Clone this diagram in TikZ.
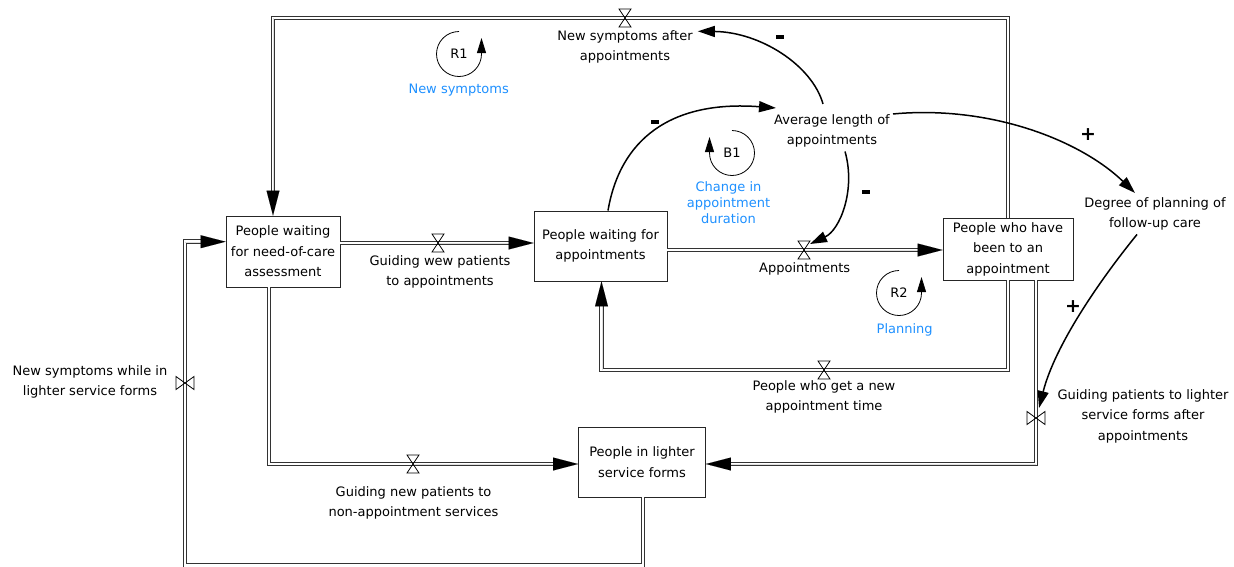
\documentclass[tikz,border=0pt]{standalone}
\usepackage{fontspec}
\setmainfont{DejaVu Sans}
\usetikzlibrary{arrows.meta}

\definecolor{loopblue}{RGB}{30,144,255}

\tikzset{
  % flow valve on a horizontal pipe (hourglass)
  pics/hvalve/.style={code={\draw[valvestroke] (-6,-9) -- (6,-9) -- (-6,9) -- (6,9) -- cycle;}},
  % flow valve on a vertical pipe (bow tie)
  pics/vvalve/.style={code={\draw[valvestroke] (-9,-6.5) -- (-9,6.5) -- (9,-6.5) -- (9,6.5) -- cycle;}},
  % loop markers: circular arrow turning counter-clockwise / clockwise
  pics/ccwloop/.style={code={\draw[loopstroke] (0,-22.5) arc[start angle=-90, end angle=-360, radius=22.5] -- ++(0,-16);}},
  pics/cwloop/.style={code={\draw[loopstroke] (0,-22.5) arc[start angle=-90, end angle=180, radius=22.5] -- ++(0,-16);}},
}

\begin{document}
\begin{tikzpicture}[x=1pt,y=-1pt,
  every node/.style={font=\fontsize{13}{20.5}\selectfont, align=center, inner sep=0pt},
  stock/.style={draw=black!85, line width=0.9pt, fill=white, inner sep=3pt},
  looplabel/.style={text=loopblue, font=\fontsize{13}{16}\selectfont},
  pipe/.style={draw=black!80, line width=0.85pt, double=white, double distance=2.8pt},
  pipehead/.style={line width=0.01pt, -{Triangle[length=25pt,width=13pt]}},
  link/.style={line width=1.5pt, -{Triangle[length=17pt,width=11pt]}},
  polarity/.style={font=\fontsize{19}{19}\selectfont\bfseries},
  minus/.style={fill=black, minimum width=8pt, minimum height=3.2pt},
  valvestroke/.style={line width=0.8pt},
  loopstroke/.style={line width=0.8pt, -{Triangle[length=15pt,width=9pt]}},
]
\useasboundingbox (0,0) rectangle (1234,566);
\clip (0,0) rectangle (1234,566);

% stocks
\node[stock, minimum width=114pt, minimum height=71pt] (wait) at (283,251.5) {People waiting\\for need-of-care\\assessment};
\node[stock, minimum width=133pt, minimum height=70pt] (appt) at (600.5,246) {People waiting for\\appointments};
\node[stock, minimum width=130pt, minimum height=62pt] (been) at (1008,249) {People who have\\been to an\\appointment};
\node[stock, minimum width=127pt, minimum height=70pt] (light) at (642,462) {People in lighter\\service forms};

% auxiliary variables
\node (avg) at (832,130.7) {Average length of\\appointments};
\node (plan) at (1155,213.7) {Degree of planning of\\follow-up care};

% flow names
\node (fA) at (440,271.7) {Guiding wew patients\\to appointments};
\node (fB) at (804.7,269) {Appointments};
\node (fC) at (413.5,502.7) {Guiding new patients to\\non-appointment services};
\node (fD) at (90,381.7) {New symptoms while in\\lighter service forms};
\node (fE) at (625,47) {New symptoms after\\appointments};
\node (fF) at (824,397) {People who get a new\\appointment time};
\node (fG) at (1143,416) {Guiding patients to lighter\\service forms after\\appointments};

% valve positions and pipe corners
\coordinate (vA) at (438,243);
\coordinate (vB) at (804,250);
\coordinate (vC) at (413,464);
\coordinate (vD) at (185,383);
\coordinate (vE) at (625,18);
\coordinate (vF) at (824,370);
\coordinate (vG) at (1036,418);
\coordinate (cC) at (269,464);
\coordinate (cD1) at (643,565.5);
\coordinate (cD2) at (185,565.5);
\coordinate (cD3) at (185,241.7);
\coordinate (cE1) at (1008,18);
\coordinate (cE2) at (273,18);
\coordinate (cF1) at (1008,370);
\coordinate (cF2) at (601.5,370);
\coordinate (cG) at (1036,464);

% pipes
\draw[pipe, shorten >=20pt] (wait.east |- vA) -- (appt.west |- vA);
\draw[pipe, shorten >=20pt] (appt.east |- vB) -- (been.west |- vB);
\draw[pipe, shorten >=20pt] (wait.south -| cC) -- (cC) -- (light.west |- cC);
\draw[pipe, shorten >=20pt] (light.south -| cD1) -- (cD1) -- (cD2) -- (cD3) -- (wait.west |- cD3);
\draw[pipe, shorten >=20pt] (been.north -| cE1) -- (cE1) -- (cE2) -- (wait.north -| cE2);
\draw[pipe, shorten >=20pt] (been.south -| cF1) -- (cF1) -- (cF2) -- (appt.south -| cF2);
\draw[pipe, shorten >=20pt] (been.south -| cG) -- (cG) -- (light.east |- cG);

% pipe heads
\draw[pipehead] (vA) -- (appt.west |- vA);
\draw[pipehead] (vB) -- (been.west |- vB);
\draw[pipehead] (vC) -- (light.west |- cC);
\draw[pipehead] (cD3) -- (wait.west |- cD3);
\draw[pipehead] (cE2) -- (wait.north -| cE2);
\draw[pipehead] (cF2) -- (appt.south -| cF2);
\draw[pipehead] (cG) -- (light.east |- cG);

% valves
\pic at (vA) {hvalve};
\pic at (vB) {hvalve};
\pic at (vC) {hvalve};
\pic at (vD) {vvalve};
\pic at (vE) {hvalve};
\pic at (vF) {hvalve};
\pic at (vG) {vvalve};

% causal links
\draw[link] ([xshift=7.5pt]appt.north) .. controls (620,140) and (670,100) .. ([xshift=2pt,yshift=6pt]avg.north west);
\draw[link] ([xshift=13pt,yshift=-4pt]avg.south) .. controls (856,190) and (840,230) .. ([xshift=6pt,yshift=6pt]vB);
\draw[link] ([xshift=-9pt,yshift=10pt]avg.north) .. controls (812,65) and (760,32) .. ([xshift=5pt,yshift=-1pt]fE.north east);
\draw[link] ([xshift=3pt]avg.north east) .. controls (990,105) and (1080,140) .. ([xshift=-20pt,yshift=4pt]plan.north);
\draw[link] ([xshift=-18pt,yshift=-4pt]plan.south) .. controls (1100,280) and (1055,345) .. ([xshift=3pt,yshift=10pt]vG);

% polarities
\node[minus] (s1) at (655,122) {};
\node[minus] (s2) at (866,192) {};
\node[minus] (s3) at (780,37) {};
\node[polarity] (s4) at (1088,135) {+};
\node[polarity] (s5) at (1073,307) {+};

% loop markers
\pic at (459,54) {ccwloop};
\node (r1) at (459,54) {R1};
\pic at (732,153) {cwloop};
\node (b1) at (732,153) {B1};
\pic at (899,293) {ccwloop};
\node (r2) at (899,293) {R2};
\node[looplabel] (r1name) at (458.7,90) {New symptoms};
\node[looplabel] (b1name) at (728.5,203) {Change in\\appointment\\duration};
\node[looplabel] (r2name) at (904.7,330) {Planning};
\end{tikzpicture}
\end{document}
